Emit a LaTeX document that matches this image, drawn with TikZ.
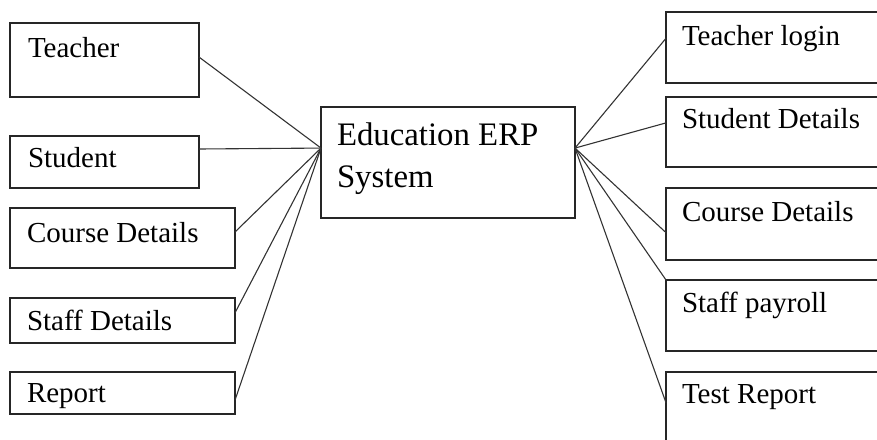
\documentclass[tikz,border=0pt]{standalone}
\usepackage{fontspec}
\setmainfont{Liberation Serif}
\usetikzlibrary{calc}
\begin{document}
\begin{tikzpicture}[x=0.5pt,y=-0.5pt,
  box/.style={draw=black!85, line width=0.65pt, inner sep=0pt, outer sep=0pt, anchor=north west},
  txt/.style={anchor=base west, inner sep=0pt, outer sep=0pt, font=\fontsize{14.5}{17}\selectfont},
  bigtxt/.style={anchor=base west, inner sep=0pt, outer sep=0pt, align=left, font=\fontsize{16.4}{21}\selectfont},
  conn/.style={draw=black!80, line width=0.55pt}]
\useasboundingbox (0,0) rectangle (877,439);
\clip (0,0) rectangle (877,439);
% left boxes
\node[box, minimum width=94.5pt, minimum height=37pt] (teacher) at (10,23) {};
\node[box, minimum width=94.5pt, minimum height=26pt] (student) at (10,136) {};
\node[box, minimum width=112.5pt, minimum height=30pt] (courseL) at (10,208) {};
\node[box, minimum width=112.5pt, minimum height=22.5pt] (staff) at (10,298) {};
\node[box, minimum width=112.5pt, minimum height=21pt] (report) at (10,372) {};
% centre
\node[box, minimum width=127pt, minimum height=55.5pt] (erp) at (321,107) {};
% right boxes
\node[box, minimum width=115pt, minimum height=35.5pt] (tlogin) at (666,12) {};
\node[box, minimum width=115pt, minimum height=35pt] (sdet) at (666,97) {};
\node[box, minimum width=115pt, minimum height=36pt] (courseR) at (666,188) {};
\node[box, minimum width=115pt, minimum height=35.5pt] (spay) at (666,280) {};
\node[box, minimum width=115pt, minimum height=37.5pt] (trep) at (666,372) {};
% texts
\node[txt] (teacherT) at (28,57) {Teacher};
\node[txt] (studentT) at (28,167) {Student};
\node[txt] (courseLT) at (27,242) {Course Details};
\node[txt] (staffT) at (27,330) {Staff Details};
\node[txt] (reportT) at (27,402) {Report};
\node[bigtxt] (erpT) at (337,187) {Education ERP\\System};
\node[txt] (tloginT) at (682,45) {Teacher login};
\node[txt] (sdetT) at (682,128) {Student Details};
\node[txt] (courseRT) at (682,221) {Course Details};
\node[txt] (spayT) at (682,312) {Staff payroll};
\node[txt] (trepT) at (682,403) {Test Report};
% hubs
\coordinate (hubL) at ($(erp.north west)!0.37!(erp.south west)$);
\coordinate (hubR) at ($(erp.north east)!0.37!(erp.south east)$);
% connectors left
\draw[conn] ($(teacher.north east)!0.46!(teacher.south east)$) -- (hubL);
\draw[conn] ($(student.north east)!0.25!(student.south east)$) -- (hubL);
\draw[conn] ($(courseL.north east)!0.4!(courseL.south east)$) -- (hubL);
\draw[conn] ($(staff.north east)!0.33!(staff.south east)$) -- (hubL);
\draw[conn] ($(report.north east)!0.67!(report.south east)$) -- (hubL);
% connectors right
\draw[conn] (hubR) -- ($(tlogin.north west)!0.37!(tlogin.south west)$);
\draw[conn] (hubR) -- ($(sdet.north west)!0.37!(sdet.south west)$);
\draw[conn] (hubR) -- ($(courseR.north west)!0.62!(courseR.south west)$);
\draw[conn] (hubR) -- (spay.north west);
\draw[conn] (hubR) -- ($(trep.north west)!0.41!(trep.south west)$);
\end{tikzpicture}
\end{document}
